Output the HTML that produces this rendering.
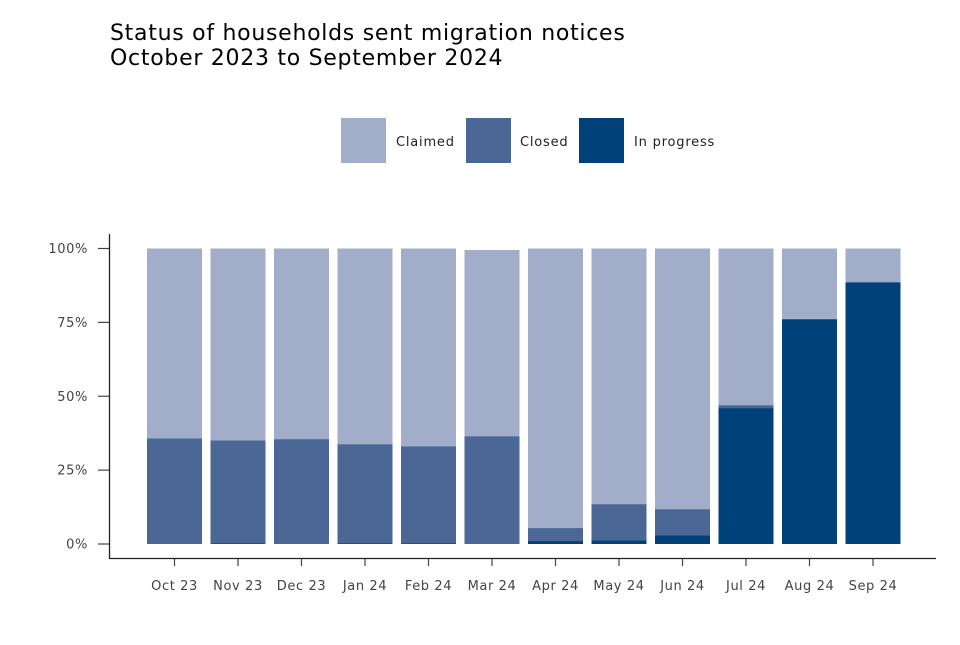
<!DOCTYPE html>
<html><head><meta charset="utf-8"><style>
body{margin:0;background:#fff}
svg text{font-family:"DejaVu Sans","Liberation Sans",sans-serif}
</style></head><body>
<svg id="chart" width="960" height="640" xmlns="http://www.w3.org/2000/svg">
<text x="110" y="40" font-size="22" letter-spacing="0.72" fill="#000">Status of households sent migration notices</text>
<text x="110" y="65" font-size="22" letter-spacing="0.72" fill="#000">October 2023 to September 2024</text>
<g>
<rect x="341" y="118" width="45" height="45" fill="#a2adca"/>
<text x="396" y="146" font-size="13" letter-spacing="0.8" fill="#222">Claimed</text>
<rect x="466" y="118" width="45" height="45" fill="#4a6796"/>
<text x="520" y="146" font-size="13" letter-spacing="0.8" fill="#222">Closed</text>
<rect x="579" y="118" width="45" height="45" fill="#00417a"/>
<text x="634" y="146" font-size="13" letter-spacing="0.8" fill="#222">In progress</text>
</g>
<g id="plot"></g>
</svg>
<script>
const categories=["Oct 23","Nov 23","Dec 23","Jan 24","Feb 24","Mar 24","Apr 24","May 24","Jun 24","Jul 24","Aug 24","Sep 24"];
const inProgress=[0,0.3,0,0.3,0.3,0,1,1.2,3,46,76,88.6];
const closed=[35.8,34.8,35.5,33.5,32.8,36.5,4.4,12.3,8.8,1,0.2,0];
const claimed=[64.2,64.9,64.5,66.2,66.9,63,94.6,86.5,88.2,53,23.8,11.4];
const yTicks=[0,25,50,75,100];
const yTickLabels=["0%","25%","50%","75%","100%"];
const NS="http://www.w3.org/2000/svg";
const g=document.getElementById('plot');
const y0=544,y1=248.5;
function y(v){return y0-(y0-y1)*v/100;}
const step=63.5,first=174.5,bw=55;
function x(i){return first+i*step;}
function mk(t,a){const e=document.createElementNS(NS,t);for(const k in a)e.setAttribute(k,a[k]);g.appendChild(e);return e;}
const series=[[inProgress,"#00417a","in-progress"],[closed,"#4a6796","closed"],[claimed,"#a2adca","claimed"]];
categories.forEach((c,i)=>{
  let base=0;
  series.forEach(([arr,col,nm])=>{
    const v=arr[i];
    const r=mk('rect',{x:x(i)-bw/2,y:y(base+v),width:bw,height:Math.max(0,y(base)-y(base+v)),fill:col});
    
    
    base+=v;
  });
  const t=mk('line',{x1:x(i),x2:x(i),y1:559,y2:566,stroke:'#444','stroke-width':1.2});
  
  
  const l=mk('text',{x:x(i),y:590,'font-size':13,'letter-spacing':0.6,fill:'#444','text-anchor':'middle'});
  l.textContent=c;
  
  
});
yTicks.forEach((v,i)=>{
  const t=mk('line',{x1:98,x2:109,y1:y(v),y2:y(v),stroke:'#444','stroke-width':1.2});
  
  
  const l=mk('text',{x:88,y:y(v)+4.5,'font-size':13,'letter-spacing':0.6,fill:'#444','text-anchor':'end'});
  l.textContent=yTickLabels[i];
  
  
});
const ya=mk('line',{x1:109.5,x2:109.5,y1:234,y2:559,stroke:'#222','stroke-width':1.3});


const xa=mk('line',{x1:109,x2:936,y1:558.5,y2:558.5,stroke:'#222','stroke-width':1.3});


</script>
</body></html>
